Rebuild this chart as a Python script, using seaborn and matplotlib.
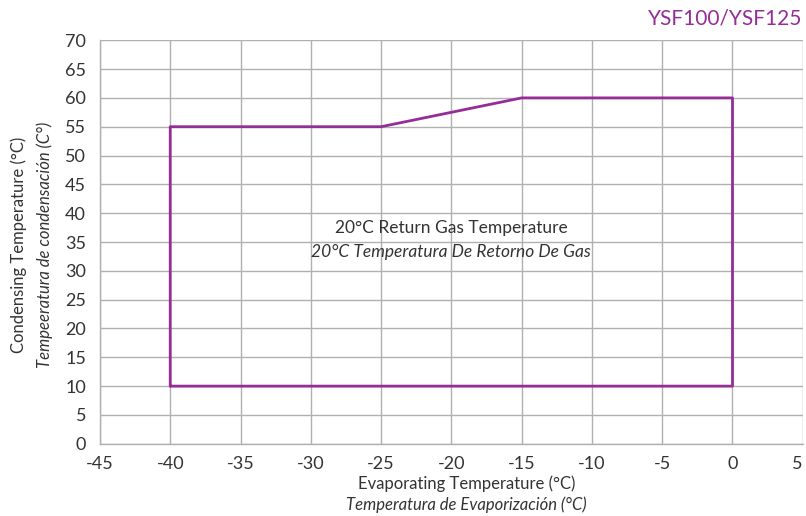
import numpy as np
import pandas as pd
import seaborn as sns
import matplotlib.pyplot as plt

# operating envelope (evaporating, condensing)
evap_temp = [-40, -40, -25, -15, 0, 0, -40]
cond_temp = [10, 55, 55, 60, 60, 10, 10]
x_ticks = list(range(-45, 10, 5))
y_ticks = list(range(0, 75, 5))

title = "YSF100/YSF125"
note_en = "20°C Return Gas Temperature"
note_es = "20°C Temperatura De Retorno De Gas"

sns.set_theme(style="whitegrid")
plt.rcParams['font.family'] = ['Lato', 'DejaVu Sans']
plt.rcParams['axes.unicode_minus'] = False

purple = '#952d98'
text_col = '#333333'
grid_col = '#b0b0b0'

df = pd.DataFrame({'evap': evap_temp, 'cond': cond_temp})

fig = plt.figure(figsize=(8.06, 5.16), dpi=100)
ax = fig.add_axes([0.124, 0.140, 0.872, 0.782])
sns.lineplot(data=df, x='evap', y='cond', sort=False, estimator=None,
             color=purple, linewidth=2, ax=ax)

ax.set_xlim(-45, 5)
ax.set_ylim(0, 70)
ax.set_xticks(x_ticks)
ax.set_yticks(y_ticks)
ax.tick_params(axis='both', labelsize=13, colors=text_col, length=0)
ax.tick_params(axis='x', pad=9)
ax.tick_params(axis='y', pad=10)
ax.get_xticklabels()[-1].set_ha('right')
ax.grid(True, color=grid_col, linewidth=1)
for s in ['top', 'right']:
    ax.spines[s].set_visible(False)
for s in ['left', 'bottom']:
    ax.spines[s].set_color(grid_col)
    ax.spines[s].set_linewidth(1)

ax.set_xlabel('')
ax.set_ylabel('')
fig.text(0.579, 0.062, 'Evaporating Temperature (°C)', ha='center', va='center',
         fontsize=12, color=text_col)
fig.text(0.579, 0.021, 'Temperatura de Evaporización (°C)', ha='center', va='center',
         fontsize=12, color=text_col, style='italic')
fig.text(0.023, 0.525, 'Condensing Temperature (°C)', ha='center', va='center',
         fontsize=12, color=text_col, rotation=90)
fig.text(0.056, 0.525, 'Tempeeratura de condensación (C°)', ha='center', va='center',
         fontsize=12, color=text_col, rotation=90, style='italic')

ax.text(-20, 37.5, note_en, ha='center', va='center', fontsize=12.5, color=text_col)
ax.text(-20, 33.2, note_es, ha='center', va='center', fontsize=12.5, color=text_col,
        style='italic')

fig.text(0.995, 0.965, title, ha='right', va='center', fontsize=15, color=purple)

fig.savefig('out.png', dpi=100)
